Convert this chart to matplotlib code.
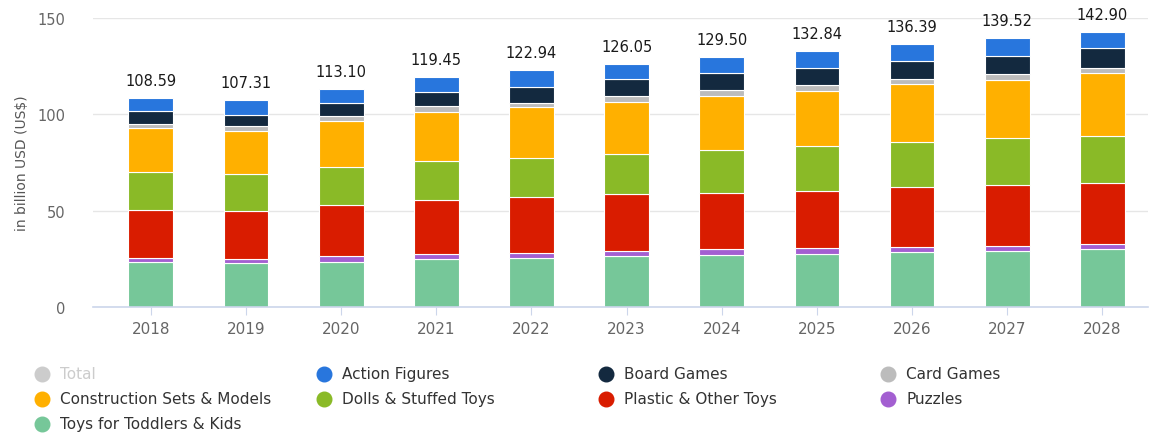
import matplotlib.pyplot as plt
import numpy as np

# Years on the x axis
years = ['2018', '2019', '2020', '2021', '2022', '2023', '2024', '2025', '2026', '2027', '2028']

# Segment values, bottom to top, in billion USD
toddlers = [23.5, 22.9, 23.6, 24.8, 25.6, 26.6, 27.1, 27.7, 28.5, 29.0, 29.9]
puzzles = [2.1, 2.1, 3.0, 2.8, 2.6, 2.6, 2.9, 2.9, 2.8, 2.9, 2.9]
plastic = [24.7, 24.7, 26.1, 28.0, 28.7, 29.4, 29.0, 29.8, 30.8, 31.4, 31.5]
dolls = [19.8, 19.4, 19.8, 20.3, 20.2, 21.0, 22.6, 23.0, 23.6, 24.2, 24.7]
construction = [22.7, 22.5, 24.1, 25.4, 26.7, 26.9, 28.0, 28.9, 29.9, 30.5, 32.2]
card = [2.4, 2.6, 2.6, 2.8, 2.3, 2.9, 2.9, 2.9, 2.8, 2.9, 2.9]
board = [6.4, 5.7, 6.7, 7.6, 8.1, 8.7, 8.7, 9.1, 9.5, 9.5, 10.1]
action = [7.0, 7.4, 7.2, 7.75, 8.74, 7.95, 8.3, 8.54, 8.49, 9.12, 8.7]

# Totals printed above the bars
totals = [108.59, 107.31, 113.10, 119.45, 122.94, 126.05, 129.50, 132.84, 136.39, 139.52, 142.90]

series = [
    ('Toys for Toddlers & Kids', toddlers, '#76c799'),
    ('Puzzles', puzzles, '#a35fd1'),
    ('Plastic & Other Toys', plastic, '#d91c00'),
    ('Dolls & Stuffed Toys', dolls, '#8aba27'),
    ('Construction Sets & Models', construction, '#ffb000'),
    ('Card Games', card, '#bcbcbc'),
    ('Board Games', board, '#13293f'),
    ('Action Figures', action, '#2876dd'),
]

fig = plt.figure(figsize=(11.52, 4.35), dpi=100)
ax = fig.add_axes([93 / 1152, 1 - 308 / 435, 1055 / 1152, 289 / 435])

x = np.arange(len(years))
bottom = np.zeros(len(years))
for name, vals, col in series:
    ax.bar(x, vals, 0.47, bottom=bottom, color=col, edgecolor='white', linewidth=0.8)
    bottom += np.array(vals)

for xi, top, t in zip(x, bottom, totals):
    ax.text(xi, top + 5.2, '%.2f' % t, ha='center', va='bottom', fontsize=10.5, color='#1a1a1a')

ax.set_ylim(0, 150)
ax.set_xlim(-0.608, 10.48)
ax.set_yticks([0, 50, 100, 150])
ax.set_xticks(x)
ax.set_xticklabels(years)
ax.tick_params(axis='y', length=0, labelsize=10.5, colors='#666666', pad=20)
ax.tick_params(axis='x', length=6, color='#ccd6eb', labelsize=11, labelcolor='#666666', pad=4)
ax.yaxis.grid(True, color='#e6e6e6', linewidth=1)
ax.set_axisbelow(True)
for s in ['top', 'right', 'left']:
    ax.spines[s].set_visible(False)
ax.spines['bottom'].set_color('#ccd6eb')
ax.spines['bottom'].set_linewidth(1.2)
ax.set_ylabel('in billion USD (US$)', fontsize=10, color='#555555', labelpad=6)

# Legend laid out row by row like the original
legend_items = [
    ('Total', '#cccccc'),
    ('Action Figures', '#2876dd'),
    ('Board Games', '#13293f'),
    ('Card Games', '#bcbcbc'),
    ('Construction Sets & Models', '#ffb000'),
    ('Dolls & Stuffed Toys', '#8aba27'),
    ('Plastic & Other Toys', '#d91c00'),
    ('Puzzles', '#a35fd1'),
    ('Toys for Toddlers & Kids', '#76c799'),
]
col_x = [42, 324, 606, 888]
row_y = [375, 400, 425]
for i, (name, col) in enumerate(legend_items):
    cx = col_x[i % 4] / 1152
    cy = 1 - row_y[i // 4] / 435
    fig.add_artist(plt.Line2D([cx], [cy], marker='o', markersize=10.5, color=col,
                              linestyle='none', transform=fig.transFigure))
    tc = '#cccccc' if name == 'Total' else '#333333'
    fig.text(cx + 18 / 1152, cy, name, fontsize=11, color=tc, va='center', ha='left')

fig.savefig('out.png', dpi=100)
